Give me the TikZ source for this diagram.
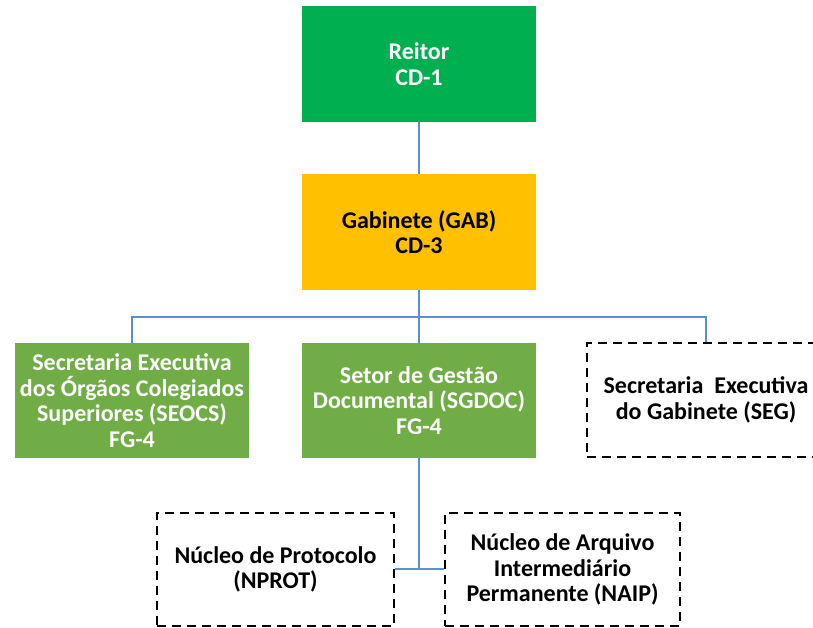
\documentclass[tikz,border=0pt]{standalone}
\usepackage{fontspec}
\setmainfont{Carlito}
\definecolor{reitorgreen}{HTML}{00B050}
\definecolor{gabyellow}{HTML}{FFC000}
\definecolor{unitgreen}{HTML}{70AD47}
\definecolor{linkblue}{HTML}{5B8FC9}
\begin{document}
\begin{tikzpicture}[x=1pt,y=-1pt,
  orgbox/.style={rectangle, inner sep=0pt, align=center,
    minimum width=234pt, minimum height=116pt,
    font=\fontsize{24}{25.5}\selectfont\bfseries},
  topbox/.style={orgbox, fill=reitorgreen, text=white},
  gabbox/.style={orgbox, fill=gabyellow, text=black},
  unitbox/.style={orgbox, fill=unitgreen, text=white, minimum height=115pt},
  dashbox/.style={orgbox, draw=black, line width=2.4pt, dash pattern=on 9pt off 6pt, text=black},
  link/.style={draw=linkblue, line width=2.2pt}]
\clip (0,0) rectangle (813,628);
\fill[white] (0,0) rectangle (813,628);

% top levels
\node[topbox] (reitor) at (419,64) {Reitor\\CD-1};
\node[gabbox] (gab) at (419,232) {Gabinete (GAB)\\CD-3};

% units under the cabinet
\node[unitbox] (seocs) at (132,400.5) {Secretaria Executiva\\dos Órgãos Colegiados\\Superiores (SEOCS)\\FG-4};
\node[unitbox] (sgdoc) at (419,400.5) {Setor de Gestão\\Documental (SGDOC)\\FG-4};
\node[dashbox, minimum width=238pt, minimum height=114pt] (seg) at (706,400) {Secretaria\ \ Executiva\\do Gabinete (SEG)};

% nuclei under SGDOC
\node[dashbox, minimum width=237pt, minimum height=113pt] (nprot) at (275.5,569.5) {Núcleo de Protocolo\\(NPROT)};
\node[dashbox, minimum width=235pt, minimum height=113pt] (naip) at (562.5,569.5) {Núcleo de Arquivo\\Intermediário\\Permanente (NAIP)};

% connectors
\draw[link] (reitor.south) -- (gab.south |- gab.north);
\coordinate (bus) at (419,317);
\draw[link] (gab.south) -- (bus);
\draw[link] (seocs.north) |- (bus) -| (seg.north);
\draw[link] (bus) -- (sgdoc.north);
\coordinate (fork) at (419,569);
\draw[link] (sgdoc.south) -- (fork);
\draw[link] (nprot.east |- fork) -- (naip.west |- fork);
\end{tikzpicture}
\end{document}
